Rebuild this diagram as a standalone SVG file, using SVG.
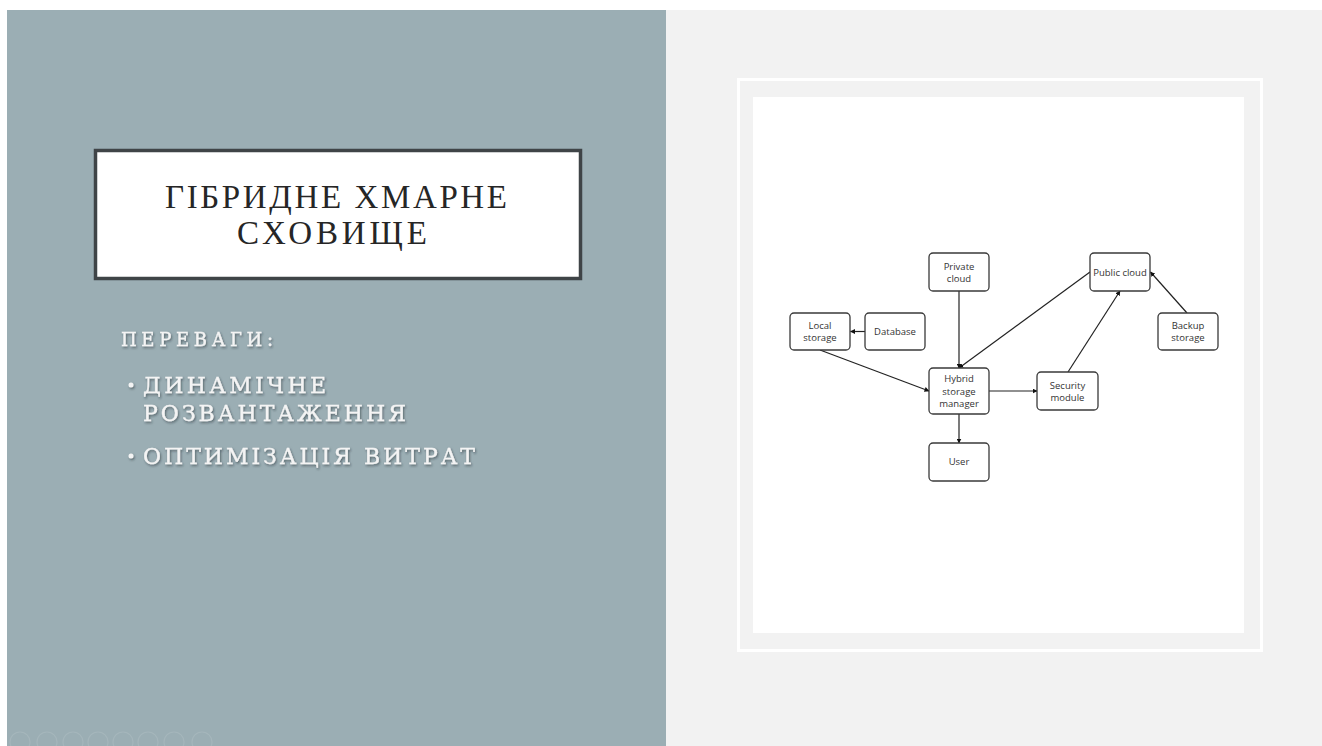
<svg xmlns="http://www.w3.org/2000/svg" width="1322" height="746" viewBox="0 0 1322 746">
  <defs>
    <style>
      .title { font-family: "Liberation Serif", "DejaVu Serif", serif; font-size: 33px; fill: #262626; }
      .body { font-family: "DejaVu Serif", "Liberation Serif", serif; fill: #f4f4f4; stroke: #f4f4f4; stroke-width: 0.35; }
      .node rect { fill: #ffffff; stroke: #3a3a3a; stroke-width: 1.3; }
      .node text { font-family: "Open Sans", "Noto Sans", "DejaVu Sans", sans-serif; font-size: 9.5px; fill: #333333; text-anchor: middle; }
      .edge { stroke: #222222; stroke-width: 1.2; fill: none; marker-end: url(#arrow); }
      .ctl { fill: none; stroke: #ffffff; stroke-opacity: 0.1; stroke-width: 1.2; }
    </style>
    <marker id="arrow" viewBox="0 0 10 10" refX="9" refY="5" markerWidth="5" markerHeight="5" orient="auto" markerUnits="userSpaceOnUse">
      <path d="M0,0 L10,5 L0,10 z" fill="#111111"/>
    </marker>
    <filter id="shadow" x="-5%" y="-30%" width="110%" height="160%">
      <feDropShadow dx="1" dy="1.5" stdDeviation="1" flood-color="#1e2a30" flood-opacity="0.55"/>
    </filter>
  </defs>

  <!-- page background -->
  <rect x="0" y="0" width="1322" height="746" fill="#ffffff"/>
  <rect x="666" y="10" width="656" height="736" fill="#f2f2f2"/>
  <rect x="7" y="10" width="659" height="736" fill="#9baeb4"/>

  <!-- title box -->
  <g id="title">
    <rect x="95.5" y="150.5" width="485" height="128" fill="#ffffff" stroke="#3f4447" stroke-width="3.5"/>
    <text class="title" x="165" y="208" textLength="342" lengthAdjust="spacing">ГІБРИДНЕ ХМАРНЕ</text>
    <text class="title" x="237" y="244" textLength="190" lengthAdjust="spacing">СХОВИЩЕ</text>
  </g>

  <!-- advantages list -->
  <g id="advantages" filter="url(#shadow)">
    <text class="body" x="121" y="346" font-size="18" textLength="152" lengthAdjust="spacing">ПЕРЕВАГИ:</text>
    <circle cx="131" cy="385" r="2.5" fill="#f4f4f4"/>
    <text class="body" x="143" y="393" font-size="22" textLength="183" lengthAdjust="spacing">ДИНАМІЧНЕ</text>
    <text class="body" x="143" y="421" font-size="22" textLength="263" lengthAdjust="spacing">РОЗВАНТАЖЕННЯ</text>
    <circle cx="131" cy="456" r="2.5" fill="#f4f4f4"/>
    <text class="body" x="143" y="464" font-size="22" textLength="332" lengthAdjust="spacing">ОПТИМІЗАЦІЯ ВИТРАТ</text>
  </g>

  <!-- slideshow controls -->
  <g id="controls">
    <circle class="ctl" cx="20" cy="742" r="10"/>
    <circle class="ctl" cx="47" cy="742" r="10"/>
    <circle class="ctl" cx="73" cy="742" r="10"/>
    <circle class="ctl" cx="98" cy="742" r="10"/>
    <circle class="ctl" cx="123" cy="742" r="10"/>
    <circle class="ctl" cx="148" cy="742" r="10"/>
    <circle class="ctl" cx="174" cy="742" r="10"/>
    <circle class="ctl" cx="202" cy="742" r="10"/>
  </g>

  <!-- picture frame -->
  <rect x="738.5" y="79.5" width="523" height="571" fill="none" stroke="#ffffff" stroke-width="3"/>
  <rect x="753" y="97" width="491" height="536" fill="#ffffff"/>

  <!-- connectors -->
  <g id="connectors">
    <line class="edge" x1="865" y1="331.5" x2="850.5" y2="331.5"/>
    <line class="edge" x1="820" y1="350" x2="929" y2="391"/>
    <line class="edge" x1="959" y1="291" x2="959" y2="368"/>
    <line class="edge" x1="1090" y1="272" x2="959" y2="368"/>
    <line class="edge" x1="989" y1="391" x2="1037" y2="391"/>
    <line class="edge" x1="1068" y1="372" x2="1120" y2="291"/>
    <line class="edge" x1="1187" y1="313" x2="1150.5" y2="272"/>
    <line class="edge" x1="959" y1="414" x2="959" y2="443"/>
  </g>

  <!-- nodes -->
  <g id="private-cloud" class="node">
    <rect x="929" y="253" width="60" height="38" rx="4"/>
    <text x="959" y="270">Private</text>
    <text x="959" y="282">cloud</text>
  </g>
  <g id="public-cloud" class="node">
    <rect x="1090" y="253" width="60" height="38" rx="4"/>
    <text x="1120" y="275.5">Public cloud</text>
  </g>
  <g id="local-storage" class="node">
    <rect x="790" y="313" width="60" height="37" rx="4"/>
    <text x="820" y="329">Local</text>
    <text x="820" y="341">storage</text>
  </g>
  <g id="database" class="node">
    <rect x="865" y="313" width="60" height="37" rx="4"/>
    <text x="895" y="335">Database</text>
  </g>
  <g id="backup-storage" class="node">
    <rect x="1158" y="313" width="60" height="37" rx="4"/>
    <text x="1188" y="329">Backup</text>
    <text x="1188" y="341">storage</text>
  </g>
  <g id="hybrid-storage-manager" class="node">
    <rect x="929" y="368" width="60" height="46" rx="4"/>
    <text x="959" y="382">Hybrid</text>
    <text x="959" y="394.5">storage</text>
    <text x="959" y="407">manager</text>
  </g>
  <g id="security-module" class="node">
    <rect x="1037" y="372" width="61" height="38" rx="4"/>
    <text x="1067.5" y="389">Security</text>
    <text x="1067.5" y="401">module</text>
  </g>
  <g id="user" class="node">
    <rect x="929" y="443" width="60" height="38" rx="4"/>
    <text x="959" y="465">User</text>
  </g>
</svg>
